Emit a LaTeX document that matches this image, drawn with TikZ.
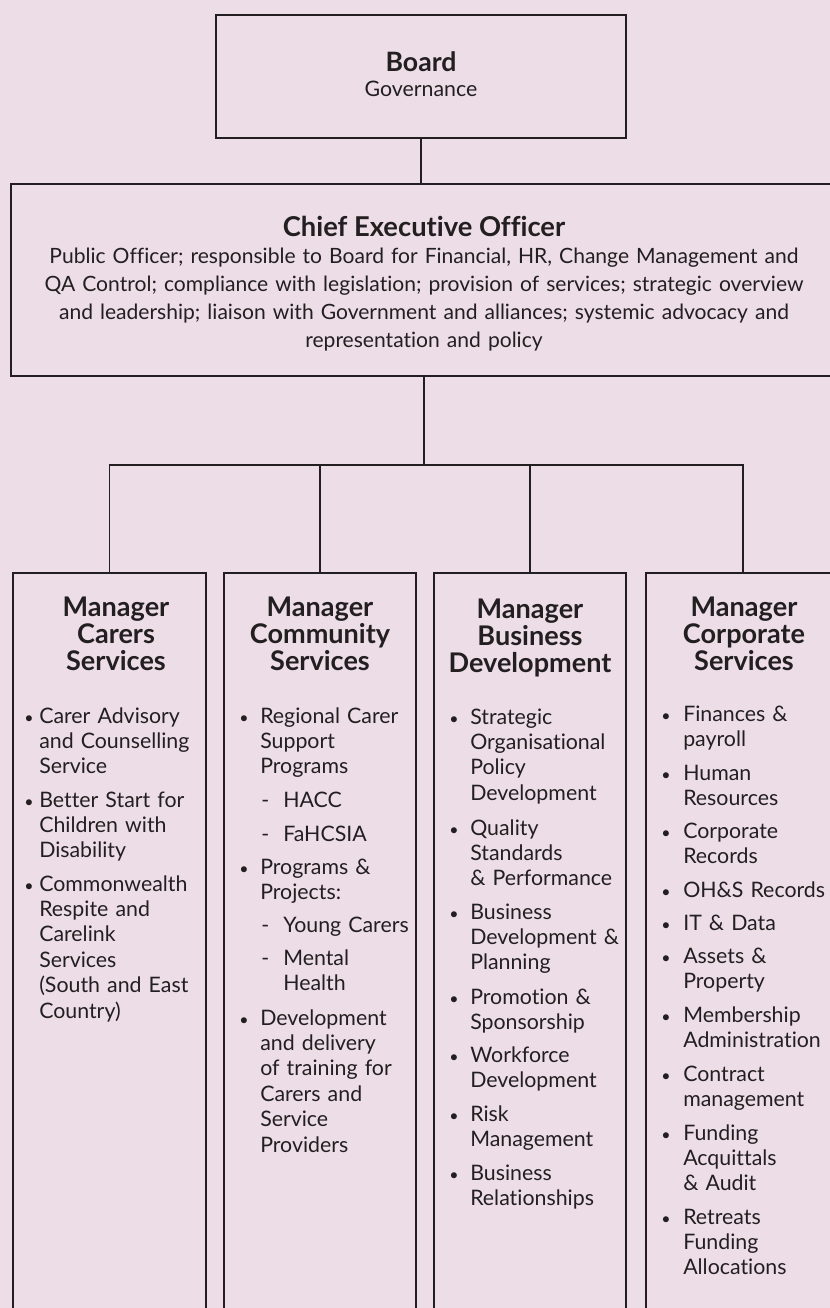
\documentclass[tikz,border=0pt]{standalone}
\usepackage{fontspec}
\setmainfont{Lato}[Ligatures={NoCommon}]
\definecolor{bg}{HTML}{ECDDE6}
\definecolor{ink}{HTML}{231F20}
\newcommand\bul[1]{\leavevmode\llap{\makebox[#1][l]{{\fontsize{12}{12}\selectfont\textbullet}}}}
\newcommand\dsh{\leavevmode\llap{\makebox[16.5pt][l]{-}}}
\begin{document}
\begin{tikzpicture}[x=0.75pt,y=-0.75pt,
  text=ink,
  box/.style={draw=ink, line width=1.1pt, inner sep=0, fill=none},
  conn/.style={draw=ink, line width=1.1pt},
  body/.style={font=\fontsize{16}{19.1}\selectfont},
  itm/.style={anchor=base west, inner sep=0, text width=150pt, align=left, body},
  hdr/.style={anchor=base, inner sep=0, text width=142pt, align=center, font=\bfseries\fontsize{20.3}{20.25}\selectfont}]
\clip (0,0) rectangle (830,1308);
\fill[bg] (0,0) rectangle (830,1308);
% boxes
\node[box, minimum width=307.5pt, minimum height=92.25pt] (board) at (421,76.5) {};
\node[box, minimum width=619.5pt, minimum height=144pt] (ceo) at (424,280) {};
\node[box, minimum width=144.75pt, minimum height=567.75pt] (m1) at (109.5,951.5) {};
\node[box, minimum width=144pt, minimum height=567.75pt] (m2) at (320,951.5) {};
\node[box, minimum width=144pt, minimum height=567.75pt] (m3) at (530,951.5) {};
\node[box, minimum width=145.5pt, minimum height=567.75pt] (m4) at (743,951.5) {};
% connectors
\coordinate (bar) at (424,465);
\draw[conn] (board.south) -- (board.south |- ceo.north);
\draw[conn] (ceo.south) -- (ceo.south |- bar);
\draw[conn] (m1.north) |- (bar) -| (m4.north);
\draw[conn] (m2.north) -- (m2.north |- bar);
\draw[conn] (m3.north) -- (m3.north |- bar);
% board text
\node[anchor=base, inner sep=0, font=\bfseries\fontsize{20}{20}\selectfont] (boardt) at (421,72) {Board};
\node[anchor=base, inner sep=0, font=\fontsize{16}{16}\selectfont] (boardg) at (421,97) {Governance};
% ceo text
\node[anchor=base, inner sep=0, font=\bfseries\fontsize{20.5}{20}\selectfont] (ceot) at (424,237) {Chief Executive Officer};
\node[anchor=base, inner sep=0, text width=600pt, align=center, font=\fontsize{15.8}{20.8}\selectfont] (ceob) at (424,264)
 {Public Officer; responsible to Board for Financial, HR, Change Management and\\
  QA Control; compliance with legislation; provision of services; strategic overview\\
  and leadership; liaison with Government and alliances; systemic advocacy and\\
  representation and policy};
% headers
\node[hdr] (h1) at (116,616) {Manager\\Carers\\Services};
\node[hdr] (h2) at (320,616) {Manager\\Community\\Services};
\node[hdr] (h3) at (530,618) {Manager\\Business\\Development};
\node[hdr] (h4) at (744,616) {Manager\\Corporate\\Services};
% box 1
\node[itm] (a1) at (39,723) {\bul{11.25pt}Carer Advisory\\and Counselling\\Service};
\node[itm] (a2) at (39,807) {\bul{11.25pt}Better Start for\\Children with\\Disability};
\node[itm] (a3) at (39,891) {\bul{11.25pt}Commonwealth\\Respite and\\Carelink\\Services\\(South and East\\Country)};
% box 2
\node[itm] (b1) at (260,723) {\bul{15.75pt}Regional Carer\\Support\\Programs};
\node[itm] (b1a) at (283,807) {\dsh HACC};
\node[itm] (b1b) at (283,841) {\dsh FaHCSIA};
\node[itm] (b2) at (260,874) {\bul{15.75pt}Programs \&\\Projects:};
\node[itm] (b2a) at (283,932) {\dsh Young Carers};
\node[itm] (b2b) at (283,965) {\dsh Mental\\Health};
\node[itm] (b3) at (260,1025) {\bul{15.75pt}Development\\and delivery\\of training for\\Carers and\\Service\\Providers};
% box 3
\node[itm] (c1) at (470,724) {\bul{15.75pt}Strategic\\Organisational\\Policy\\Development};
\node[itm] (c2) at (470,835) {\bul{15.75pt}Quality\\Standards\\\& Performance};
\node[itm] (c3) at (470,919) {\bul{15.75pt}Business\\Development \&\\Planning};
\node[itm] (c4) at (470,1004) {\bul{15.75pt}Promotion \&\\Sponsorship};
\node[itm] (c5) at (470,1062) {\bul{15.75pt}Workforce\\Development};
\node[itm] (c6) at (470,1121) {\bul{15.75pt}Risk\\Management};
\node[itm] (c7) at (470,1180) {\bul{15.75pt}Business\\Relationships};
% box 4
\node[itm] (d1) at (683,721) {\bul{16.5pt}Finances \&\\payroll};
\node[itm] (d2) at (683,780) {\bul{16.5pt}Human\\Resources};
\node[itm] (d3) at (683,838) {\bul{16.5pt}Corporate\\Records};
\node[itm] (d4) at (683,897) {\bul{16.5pt}OH\&S Records};
\node[itm] (d5) at (683,930) {\bul{16.5pt}IT \& Data};
\node[itm] (d6) at (683,963) {\bul{16.5pt}Assets \&\\Property};
\node[itm] (d7) at (683,1022) {\bul{16.5pt}Membership\\Administration};
\node[itm] (d8) at (683,1081) {\bul{16.5pt}Contract\\management};
\node[itm] (d9) at (683,1140) {\bul{16.5pt}Funding\\Acquittals\\\& Audit};
\node[itm] (d10) at (683,1224) {\bul{16.5pt}Retreats\\Funding\\Allocations};
\end{tikzpicture}
\end{document}
